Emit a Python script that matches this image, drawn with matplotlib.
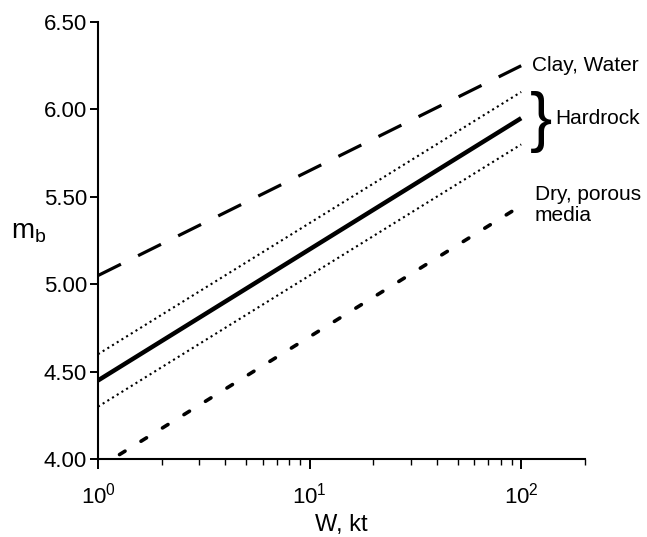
import matplotlib
matplotlib.use("Agg")
import matplotlib.pyplot as plt
from matplotlib.ticker import FormatStrFormatter, LogLocator

plt.rcParams['font.family'] = ['Liberation Sans', 'DejaVu Sans']
plt.rcParams['mathtext.fontset'] = 'custom'
plt.rcParams['mathtext.rm'] = 'Liberation Sans'
plt.rcParams['mathtext.it'] = 'Liberation Sans:italic'
plt.rcParams['mathtext.default'] = 'regular'

# Yield (kt) at the two ends of each line, and the body-wave magnitude there.
w_kt = [1, 100]
clay_water = [5.05, 6.25]
hardrock_upper = [4.60, 6.10]
hardrock_mid = [4.45, 5.95]
hardrock_lower = [4.30, 5.80]
dry_porous = [3.95, 5.45]

y_ticks = [4.00, 4.50, 5.00, 5.50, 6.00, 6.50]

fig = plt.figure(figsize=(6.47, 5.37), dpi=100)
ax = fig.add_axes([0.1515, 0.145, 0.7525, 0.814])

ax.plot(w_kt, clay_water, color='black', lw=2.3, dashes=(8, 6), dash_capstyle='butt')
ax.plot(w_kt, hardrock_upper, color='black', lw=1.5, linestyle=':')
ax.plot(w_kt, hardrock_mid, color='black', lw=3.2, solid_capstyle='butt')
ax.plot(w_kt, hardrock_lower, color='black', lw=1.5, linestyle=':')
ax.plot(w_kt, dry_porous, color='black', lw=2.6, dashes=(1.8, 5.2), dash_capstyle='round')

ax.set_xscale('log')
ax.set_xlim(1, 200)
ax.set_ylim(4.0, 6.5)
ax.set_yticks(y_ticks)
ax.yaxis.set_major_formatter(FormatStrFormatter('%.2f'))
ax.xaxis.set_major_locator(LogLocator(base=10, numticks=10))
ax.xaxis.set_minor_locator(LogLocator(base=10, subs=range(2, 10), numticks=10))

for side in ['top', 'right']:
    ax.spines[side].set_visible(False)
for side in ['left', 'bottom']:
    ax.spines[side].set_linewidth(1.5)

ax.tick_params(axis='y', which='major', direction='out', length=6, width=1.4,
               labelsize=16, pad=2)
ax.tick_params(axis='x', which='major', direction='out', length=7, width=1.4,
               labelsize=16, pad=10)
ax.tick_params(axis='x', which='minor', direction='out', length=4, width=1.0)

ax.set_xlabel('W, kt', fontsize=17, labelpad=4)
ax.set_ylabel(r'm$_\mathrm{b}$', fontsize=20, rotation=0, ha='center', va='center')
ax.yaxis.set_label_coords(-0.142, 0.52)

# Labels to the right of the lines.
ax.text(112, 6.25, 'Clay, Water', fontsize=15, va='center', ha='left')
ax.text(110, 5.93, '}', fontsize=48, va='center', ha='left')
ax.text(145, 5.95, 'Hardrock', fontsize=15, va='center', ha='left')
ax.text(116, 5.57, 'Dry, porous\nmedia', fontsize=15, va='top', ha='left',
        linespacing=1.15)

fig.savefig('out.png', dpi=100)
